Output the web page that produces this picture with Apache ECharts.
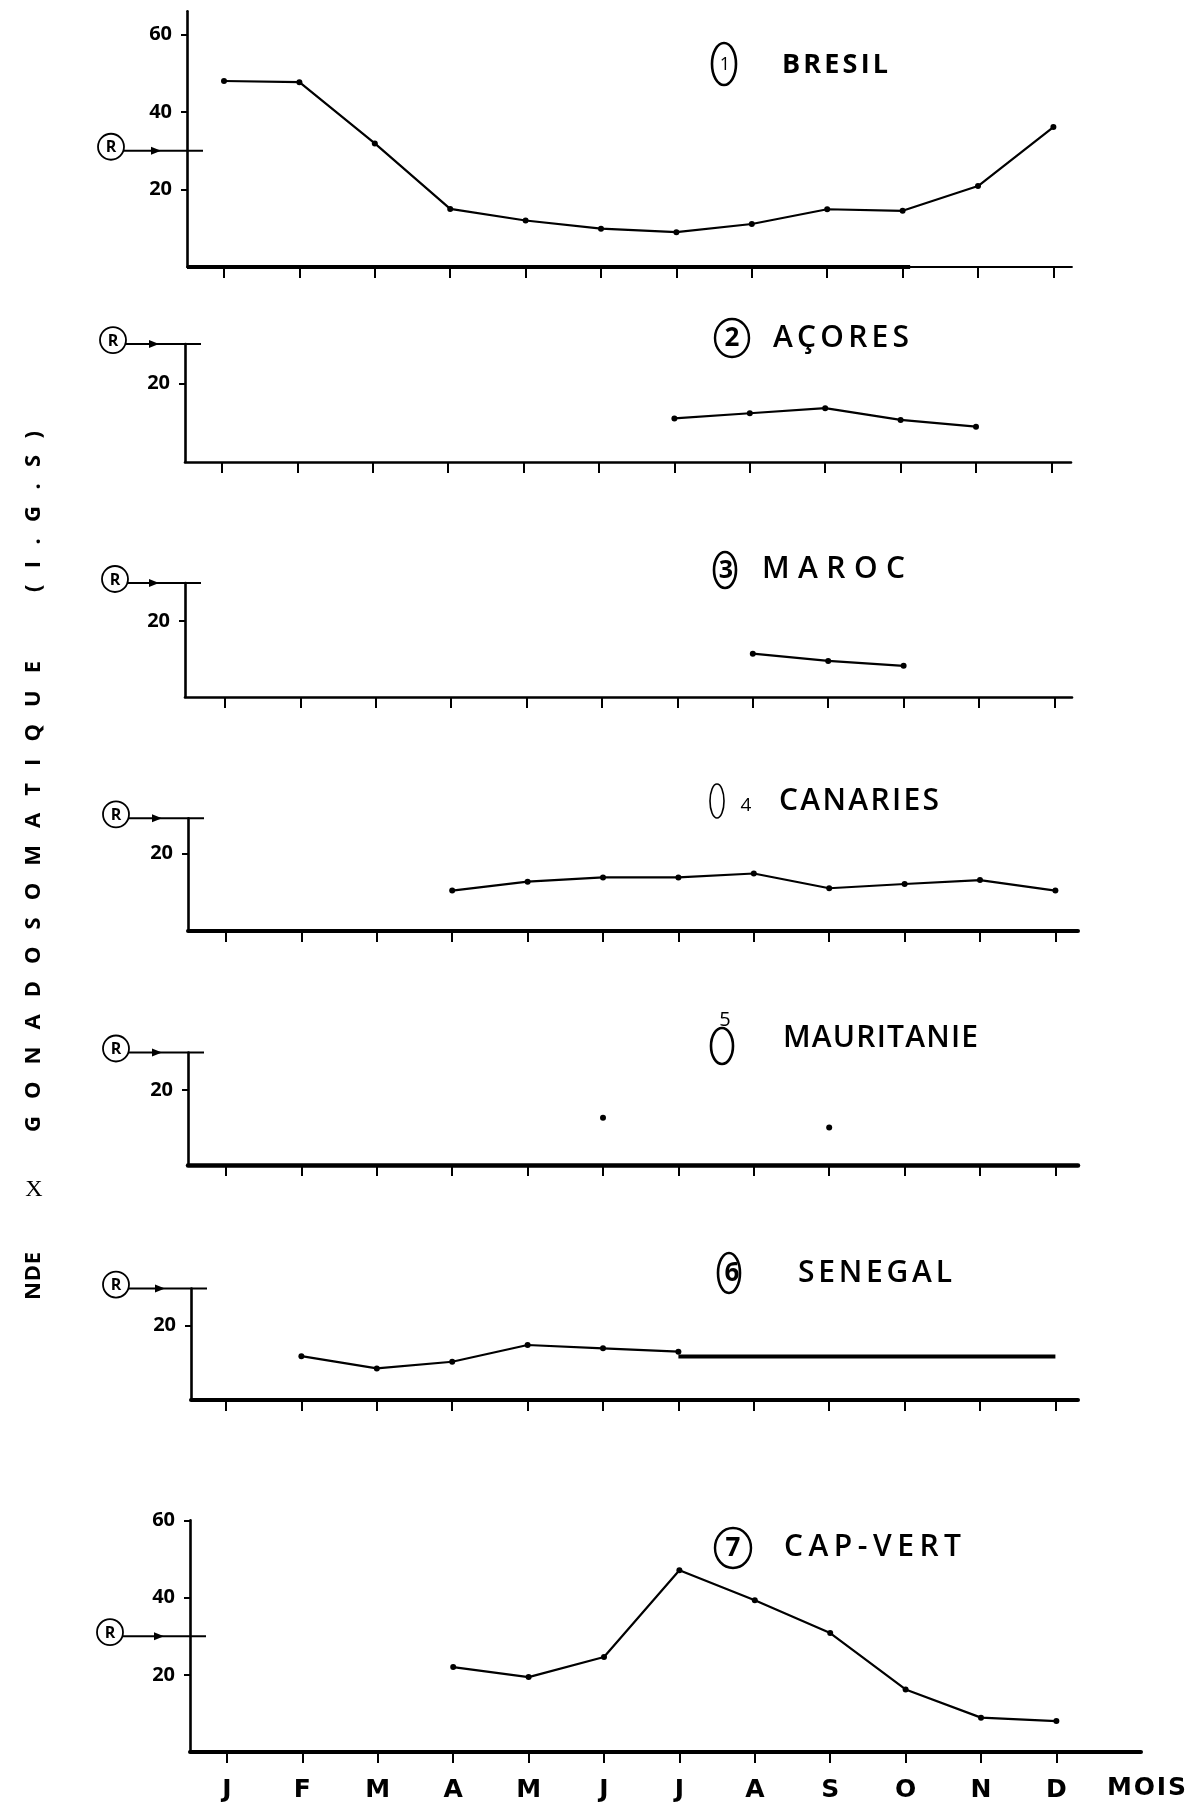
<!DOCTYPE html>
<html>
<head>
<meta charset="utf-8">
<script src="https://cdn.jsdelivr.net/npm/echarts@6/dist/echarts.min.js"></script>
<style>
  html, body { margin: 0; padding: 0; background: #fff; }
  #chart { width: 1199px; height: 1803px; }
</style>
</head>
<body>
<div id="chart"></div>
<script>
// Monthly gonadosomatic index (I.G.S) by sampling area
const months = ['J', 'F', 'M', 'A', 'M', 'J', 'J', 'A', 'S', 'O', 'N', 'D'];
const monthNums = [1, 2, 3, 4, 5, 6, 7, 8, 9, 10, 11, 12];

const bresil     = [48.0, 47.7, 31.9, 15.0, 12.0, 9.9, 9.0, 11.1, 14.9, 14.5, 20.9, 36.1];
const acores     = [null, null, null, null, null, null, 11.1, 12.4, 13.7, 10.7, 9.0, null];
const maroc      = [null, null, null, null, null, null, null, 11.4, 9.5, 8.2, null, null];
const canaries   = [null, null, null, 10.4, 12.7, 13.8, 13.8, 14.8, 11.0, 12.1, 13.1, 10.4];
const mauritanie = [null, null, null, null, null, 12.6, null, null, 10.0, null, null, null];
const senegal    = [null, 11.8, 8.5, 10.3, 14.8, 13.9, 13.0, null, null, null, null, null];
const senegalTrait = [null, null, null, null, null, null, 11.7, 11.7, 11.7, 11.7, 11.7, 11.7];
const capVert    = [null, null, null, 22.0, 19.4, 24.6, 47.1, 39.3, 30.8, 16.2, 8.9, 8.0];

const stationNames   = ['BRESIL', 'AÇORES', 'MAROC', 'CANARIES', 'MAURITANIE', 'SENEGAL', 'CAP-VERT'];
const stationNumbers = ['1', '2', '3', '4', '5', '6', '7'];
const rLevels = [30, 30, 30, 29, 30, 30, 30];
const yTickValues = [[20, 40, 60], [20], [20], [20], [20], [20], [20, 40, 60]];
const yMax = [66, 30, 30, 29, 30, 30, 60];
const seriesValues = [bresil, acores, maroc, canaries, mauritanie, senegal, capVert];

// ---- layout (pixels) ----
const panels = [
  { axisX: 187, right: 1072, base: 267,  unit: 3.875, xw: 1.8, jx: 224 },
  { axisX: 185, right: 1071, base: 462,  unit: 3.93,  xw: 2.6, jx: 222 },
  { axisX: 185, right: 1072, base: 697,  unit: 3.8,   xw: 2.6, jx: 225 },
  { axisX: 188, right: 1078, base: 931,  unit: 3.885, xw: 4,   jx: 226 },
  { axisX: 188, right: 1078, base: 1165, unit: 3.75,  xw: 4.5, jx: 226 },
  { axisX: 191, right: 1078, base: 1400, unit: 3.715, xw: 4,   jx: 226 },
  { axisX: 190, right: 1141, base: 1752, unit: 3.86,  xw: 4,   jx: 227 }
];
const STEP = 75.4;
const xMinOf = p => 1 + (p.axisX - p.jx) / STEP;
const xMaxOf = p => 1 + (p.right - p.jx) / STEP;

const toPairs = arr => arr.map((v, k) => (v == null ? null : [k + 1, v])).filter(d => d);

const chart = echarts.init(document.getElementById('chart'), null, { renderer: 'canvas' });

const grids = panels.map((p, i) => ({
  left: p.axisX,
  top: p.base - yMax[i] * p.unit,
  width: p.right - p.axisX,
  height: yMax[i] * p.unit
}));

const xAxes = panels.map((p, i) => ({
  type: 'value',
  gridIndex: i,
  min: xMinOf(p),
  max: xMaxOf(p),
  splitLine: { show: false },
  axisLine: { show: true, onZero: false, lineStyle: { color: '#000', width: p.xw } },
  axisTick: { show: true, customValues: monthNums, length: 11, inside: false,
              lineStyle: { color: '#000', width: 2 } },
  axisLabel: {
    show: i === 6,
    customValues: monthNums,
    formatter: v => months[Math.round(v) - 1] || '',
    margin: 26,
    color: '#000',
    fontFamily: 'DejaVu Sans',
    fontWeight: 'bold',
    fontSize: 25
  }
}));

const yAxes = panels.map((p, i) => ({
  type: 'value',
  gridIndex: i,
  min: 0,
  max: yMax[i],
  splitLine: { show: false },
  axisLine: { show: true, onZero: false, lineStyle: { color: '#000', width: 2.6 } },
  axisTick: { show: true, customValues: yTickValues[i], length: 6, inside: false,
              lineStyle: { color: '#000', width: 2 } },
  axisLabel: {
    show: true,
    customValues: yTickValues[i],
    margin: 15,
    color: '#000',
    fontFamily: 'Open Sans',
    fontWeight: 'bold',
    fontSize: 20
  }
}));

const lineStyle = { color: '#000', width: 2.2 };
const series = [];
seriesValues.forEach((vals, i) => {
  if (i === 4) {
    series.push({
      type: 'scatter', xAxisIndex: i, yAxisIndex: i,
      data: toPairs(vals), symbol: 'circle', symbolSize: 6,
      itemStyle: { color: '#000', opacity: 1 }
    });
  } else {
    series.push({
      type: 'line', xAxisIndex: i, yAxisIndex: i,
      data: toPairs(vals), symbol: 'circle', symbolSize: 6, showSymbol: true,
      itemStyle: { color: '#000' }, lineStyle: lineStyle
    });
  }
});
series.push({
  type: 'line', xAxisIndex: 5, yAxisIndex: 5,
  data: toPairs(senegalTrait), symbol: 'none',
  lineStyle: { color: '#000', width: 4 }
});

chart.setOption({
  animation: false,
  backgroundColor: '#fff',
  grid: grids,
  xAxis: xAxes,
  yAxis: yAxes,
  series: series
});

// ---- text helpers: letter-spaced text between two points ----
const measureCtx = document.createElement('canvas').getContext('2d');
function spreadText(str, from, to, cross, font, vertical) {
  measureCtx.font = font;
  const chars = Array.from(str);
  const widths = chars.map(c => measureCtx.measureText(c).width);
  const total = widths.reduce((a, b) => a + b, 0);
  const span = Math.abs(to - from);
  const gap = chars.length > 1 ? Math.max(0, (span - total) / (chars.length - 1)) : 0;
  let pos = from;
  const dir = to >= from ? 1 : -1;
  return chars.map((c, k) => {
    const el = {
      type: 'text', silent: true,
      x: vertical ? cross : pos,
      y: vertical ? pos : cross,
      rotation: vertical ? Math.PI / 2 : 0,
      style: { text: c, font: font, fill: '#000',
               align: 'left', verticalAlign: 'middle',
               textAlign: 'left', textVerticalAlign: 'middle' }
    };
    pos += dir * (widths[k] + gap);
    return el;
  });
}
function label(text, x, y, font, align) {
  return {
    type: 'text', silent: true, x: x, y: y,
    style: { text: text, font: font, fill: '#000',
             align: align || 'center', verticalAlign: 'middle',
             textAlign: align || 'center', textVerticalAlign: 'middle' }
  };
}
function ring(cx, cy, rx, ry, lw) {
  return { type: 'ellipse', silent: true, shape: { cx: cx, cy: cy, rx: rx, ry: ry },
           style: { fill: 'none', stroke: '#000', lineWidth: lw || 2 } };
}

const titleFont = '600 30px "Open Sans"';
const graphics = [];

// station titles
const titleSpans = [
  [782, 888, 65], [773, 909, 338], [762, 905, 569], [779, 939, 801],
  [783, 978, 1038], [798, 952, 1273], [784, 961, 1547]
];
titleSpans.forEach((t, i) => {
  const font = i === 0 ? 'bold 27px "Open Sans"' : titleFont;
  graphics.push(...spreadText(stationNames[i], t[0], t[1], t[2], font, false));
});

// numbered badges
graphics.push(ring(724, 64, 12, 21, 2.6), label(stationNumbers[0], 725, 65, '400 18px "Open Sans"'));
graphics.push(ring(732, 338, 17, 19, 2.4), label(stationNumbers[1], 732, 339, 'bold 26px "Open Sans"'));
graphics.push(ring(725, 570, 11, 18, 2.6), label(stationNumbers[2], 726, 571, 'bold 25px "Open Sans"'));
graphics.push(ring(717, 801, 7, 17, 1.6), label(stationNumbers[3], 746, 806, '400 19px "Open Sans"'));
graphics.push(ring(722, 1046, 11, 18, 2.6), label(stationNumbers[4], 725, 1020, '400 20px "Open Sans"'));
graphics.push(ring(729, 1273, 11, 20, 2.6), label(stationNumbers[5], 732, 1274, 'bold 26px "Open Sans"'));
graphics.push(ring(733, 1548, 18, 20, 2.4), label(stationNumbers[6], 733, 1549, 'bold 26px "Open Sans"'));

// month unit at the end of the last axis
graphics.push(...spreadText('MOIS', 1107, 1186, 1788, 'bold 25px "DejaVu Sans"', false));

// vertical title: index name, read bottom to top
const yFont = 'bold 22px "Open Sans"';
graphics.push(...spreadText('NDE', 1300, 1252, 34, yFont, true));
graphics.push(label('X', 34, 1190, '400 24px "Liberation Serif"'));
graphics.push(...spreadText('GONADOSOMATIQUE', 1132, 661, 34, yFont, true));
graphics.push(...spreadText('(I.G.S)', 592, 431, 34, yFont, true));

// thicker stretch of the first panel's base line
const baseEnd = chart.convertToPixel({ gridIndex: 0 }, [10.1, 0]);
const baseStart = chart.convertToPixel({ gridIndex: 0 }, [xMinOf(panels[0]), 0]);
graphics.push({ type: 'line', silent: true,
  shape: { x1: baseStart[0], y1: baseStart[1], x2: baseEnd[0], y2: baseEnd[1] },
  style: { stroke: '#000', lineWidth: 4 } });

// reproduction level marker "R" on each panel
const rOffsets = [76, 72, 70, 72, 72, 75, 80];
panels.forEach((p, i) => {
  const pt = chart.convertToPixel({ gridIndex: i }, [xMinOf(p), rLevels[i]]);
  const ax = pt[0], ry = pt[1];
  const cx = ax - rOffsets[i], cy = ry - 4;
  graphics.push({ type: 'line', silent: true,
    shape: { x1: cx + 12, y1: ry, x2: ax + 16, y2: ry },
    style: { stroke: '#000', lineWidth: 2 } });
  graphics.push({ type: 'polygon', silent: true,
    shape: { points: [[ax - 36, ry - 4], [ax - 26, ry], [ax - 36, ry + 4]] },
    style: { fill: '#000' } });
  graphics.push({ type: 'ellipse', silent: true,
    shape: { cx: cx, cy: cy, rx: 13, ry: 13 },
    style: { fill: '#fff', stroke: '#000', lineWidth: 1.8 } });
  graphics.push(label('R', cx, cy + 1, 'bold 16px "Open Sans"'));
});

chart.setOption({ graphic: { elements: graphics } });
</script>
</body>
</html>
